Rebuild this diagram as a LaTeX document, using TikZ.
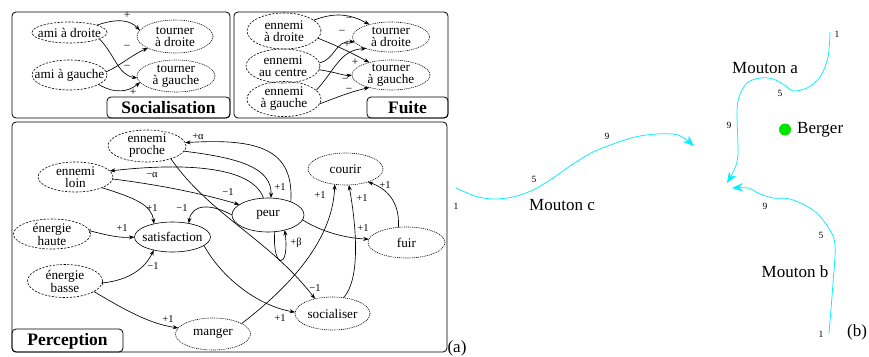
\documentclass[tikz,border=0pt]{standalone}
\usepackage{fontspec}
\setmainfont{Liberation Serif}
\usetikzlibrary{shapes.geometric,arrows.meta}
\definecolor{trajcol}{RGB}{0,240,255}
\definecolor{bergcol}{RGB}{0,230,0}
\begin{document}
\begin{tikzpicture}[x=1pt,y=-1pt,
  ebase/.style={ellipse,draw,line width=0.6pt,inner sep=0pt,outer sep=0pt},
  dsh/.style={ebase,dash pattern=on 2.2pt off 1.4pt},
  dtt/.style={ebase,dash pattern=on 1pt off 0.9pt},
  sol/.style={ebase},
  txt/.style={font=\fontsize{13.2}{12}\selectfont,align=center,inner sep=0pt},
  arr/.style={line width=0.65pt,-{Stealth[length=5.5pt,width=4pt]}},
  barr/.style={line width=0.65pt,{Bar[width=4pt]}-{Stealth[length=5.5pt,width=4pt]}},
  lab/.style={font=\fontsize{10.5}{11}\selectfont,inner sep=0pt},
  slab/.style={font=\fontsize{11.5}{11}\selectfont,inner sep=0pt},
  panel/.style={draw,line width=0.8pt,rounded corners=4pt},
  title/.style={font=\fontsize{17.5}{18}\selectfont\bfseries,inner sep=0pt},
  traj/.style={trajcol,line width=0.75pt,-{Stealth[length=11pt,width=8.5pt]}},
  num/.style={font=\fontsize{9.5}{9}\selectfont,inner sep=0pt},
  big/.style={font=\fontsize{17}{17}\selectfont,inner sep=0pt},
]
\useasboundingbox (0,0) rectangle (869,356);

% ---------- panels ----------
\draw[panel] (12,12) rectangle (230,118);
\draw[panel] (107,97) rectangle (230,118);
\node[title] (tsoc) at (168.5,108) {Socialisation};
\draw[panel] (234,12) rectangle (448,118);
\draw[panel] (367,97) rectangle (448,118);
\node[title] (tfui) at (407.5,108) {Fuite};
\draw[panel] (12,122) rectangle (447,352);
\draw[panel] (12,329) rectangle (123,352);
\node[title] (tper) at (67.5,341) {Perception};

% ---------- Socialisation ----------
\node[dsh,minimum width=75pt,minimum height=21pt,label={[txt]center:ami à droite}] (AD) at (69.5,32.5) {};
\node[dsh,minimum width=75pt,minimum height=30pt,label={[txt]center:ami à gauche}] (AG) at (69.5,75) {};
\node[dtt,minimum width=76pt,minimum height=33pt,label={[txt]center:{tourner\\à droite}}] (TD) at (175,36.5) {};
\node[dtt,minimum width=78pt,minimum height=32pt,label={[txt]center:{tourner\\à gauche}}] (TG) at (176,76) {};
\draw[arr] (AD.15) .. controls (118,18) and (130,20) .. (TD.170);
\draw[arr] (AD.-12) .. controls (115,55) and (118,75) .. (TG.183);
\draw[arr] (AG.5) .. controls (120,66) and (130,56) .. (TD.203);
\draw[arr] (AG.-18) .. controls (115,94) and (128,92) .. (TG.190);
\node[slab] (s1) at (127,15) {+};
\node[slab] (s2) at (127,47) {−};
\node[slab] (s3) at (127,67) {−};
\node[slab] (s4) at (133,92) {+};

% ---------- Fuite ----------
\node[dsh,minimum width=74pt,minimum height=36pt,label={[txt]center:{ennemi\\à droite}}] (EDr) at (284,31) {};
\node[dsh,minimum width=74pt,minimum height=34pt,label={[txt]center:{ennemi\\au centre}}] (EC) at (283,66) {};
\node[dsh,minimum width=74pt,minimum height=35pt,label={[txt]center:{ennemi\\à gauche}}] (EG) at (284,99) {};
\node[dtt,minimum width=77pt,minimum height=30pt,label={[txt]center:{tourner\\à droite}}] (FTD) at (391,37) {};
\node[dtt,minimum width=78pt,minimum height=30pt,label={[txt]center:{tourner\\à gauche}}] (FTG) at (391,75) {};
\draw[arr] (EDr.20) .. controls (335,12) and (350,14) .. (FTD.150);
\draw[arr] (EDr.-12) .. controls (335,45) and (350,52) .. (FTG.150);
\draw[arr] (EC.5) .. controls (335,60) and (335,40) .. (FTD.188);
\draw[arr] (EG.15) .. controls (335,70) and (340,50) .. (FTD.205);
\draw[arr] (EC.-6) .. controls (335,72) and (345,76) .. (FTG.180);
\draw[arr] (EG.-8) .. controls (335,98) and (350,92) .. (FTG.210);
\node[slab] (f1) at (349,19) {−};
\node[slab] (f2) at (342,32) {−};
\node[slab] (f3) at (347,44) {+};
\node[slab] (f4) at (355,62) {+};
\node[slab] (f5) at (345,80) {−};
\node[slab] (f6) at (349,90) {−};

% ---------- Perception ----------
\node[dsh,minimum width=78pt,minimum height=32pt,label={[txt]center:{ennemi\\proche}}] (EP) at (147,146) {};
\node[dsh,minimum width=75pt,minimum height=30pt,label={[txt]center:{ennemi\\loin}}] (EL) at (75.5,177) {};
\node[dsh,minimum width=77pt,minimum height=30pt,label={[txt]center:{énergie\\haute}}] (EH) at (52,234) {};
\node[sol,minimum width=76pt,minimum height=30pt,label={[txt]center:satisfaction}] (SAT) at (172.5,237) {};
\node[dsh,minimum width=75pt,minimum height=33pt,label={[txt]center:{énergie\\basse}}] (EB) at (65,281) {};
\node[dtt,minimum width=75pt,minimum height=32pt,label={[txt]center:manger}] (MG) at (213,334) {};
\node[dtt,minimum width=75pt,minimum height=33pt,label={[txt]center:socialiser}] (SO) at (332.5,313.5) {};
\node[sol,minimum width=72pt,minimum height=34pt,label={[txt]center:peur}] (PE) at (268,215) {};
\node[dtt,minimum width=75pt,minimum height=32pt,label={[txt]center:courir}] (CO) at (345.5,169) {};
\node[dtt,minimum width=77pt,minimum height=31pt,label={[txt]center:fuir}] (FU) at (406.5,242.5) {};

\draw[arr] (PE.30) .. controls (294,150) and (260,138) .. (EP.5);
\draw[arr] (EP.-8) .. controls (240,158) and (272,168) .. (PE.80);
\draw[arr] (PE.105) .. controls (252,165) and (180,163) .. (EL.10);
\draw[arr] (EL.-3) .. controls (160,185) and (200,193) .. (PE.160);
\draw[arr] (PE.180) .. controls (212,204) and (192,203) .. (SAT.40);
\draw[arr] (EL.-22) .. controls (135,198) and (152,205) .. (SAT.145);
\draw[barr] (EH.5) .. controls (110,236) and (120,238) .. (SAT.180);
\draw[barr] (EB.-3) .. controls (130,280) and (145,268) .. (SAT.215);
\draw[arr] (EB.-20) .. controls (125,310) and (150,324) .. (MG.170);
\draw[arr] (SAT.-15) .. controls (220,275) and (255,305) .. (SO.178);
\draw[arr] (EP.-28) .. controls (210,215) and (270,240) .. (SO.140);
\draw[arr] (MG.20) .. controls (305,275) and (333,230) .. (CO.235);
\draw[arr] (SO.55) .. controls (360,280) and (357,230) .. (CO.-78);
\draw[arr] (FU.118) .. controls (400,200) and (385,188) .. (CO.-30);
\draw[arr] (PE.-8) .. controls (322,232) and (345,238) .. (FU.175);
\draw[arr] (PE.-68) .. controls (272,270) and (290,270) .. (PE.-42);

\node[lab] (l1) at (198,137) {+α};
\node[lab] (l2) at (280,187) {+1};
\node[lab] (l3) at (152,175) {−α};
\node[lab] (l4) at (228,192) {−1};
\node[lab] (l5) at (182,208) {−1};
\node[lab] (l6) at (152,208) {+1};
\node[lab] (l7) at (122,228) {+1};
\node[lab] (l8) at (153,266) {−1};
\node[lab] (l9) at (168,319) {+1};
\node[lab] (l10) at (280,318) {+1};
\node[lab] (l11) at (315,288) {−1};
\node[lab] (l12) at (320,195) {+1};
\node[lab] (l13) at (362,198) {+1};
\node[lab] (l14) at (385,185) {+1};
\node[lab] (l15) at (363,228) {+1};
\node[lab] (l16) at (296,243) {+β};

\node[big] (la) at (457,348) {(a)};

% ---------- (b) ----------
\coordinate (ca0) at (830,32);
\coordinate (cb0) at (829,333);
\coordinate (cc0) at (456,188);
\draw[traj] plot[smooth,tension=0.55] coordinates {(ca0) (828,57) (820,77) (807,88) (793,91) (786,86) (773,79) (760,78) (747,83) (739,97) (737,113) (738,153) (735,168) (727,183)};
\draw[traj] plot[smooth,tension=0.55] coordinates {(cb0) (833,283) (835,245) (828,227) (813,210) (790,199) (773,198) (758,193) (748,188) (732,188)};
\draw[traj] plot[smooth,tension=0.55] coordinates {(cc0) (475,196) (493,199) (513,197) (533,190) (553,178) (573,164) (593,152) (613,144) (635,137) (657,134) (678,135) (694,146)};

\node[big] (ma) at (765,68) {Mouton a};
\node[big] (mb) at (795,272) {Mouton b};
\node[big] (mc) at (562,205) {Mouton c};
\fill[bergcol] (785,129.5) circle (6pt);
\node[big,anchor=west] (berger) at (797,130) {Berger};

\node[num] (a1) at (837,34) {1};
\node[num] (a5) at (780,93) {5};
\node[num] (a9) at (729,125) {9};
\node[num] (b1) at (821,334) {1};
\node[num] (b5) at (821,235) {5};
\node[num] (b9) at (765,206) {9};
\node[num] (c1) at (456,206) {1};
\node[num] (c5) at (534,179) {5};
\node[num] (c9) at (607,136) {9};

\node[big] (lb) at (857,332) {(b)};
\end{tikzpicture}
\end{document}
